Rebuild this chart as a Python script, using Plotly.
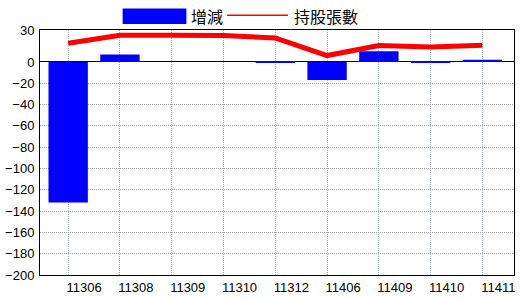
import plotly.graph_objects as go

categories = ["11306", "11308", "11309", "11310", "11312", "11406", "11409", "11410", "11411"]
change_values = [-132, 7, 0, 0, -1, -17, 10, -1, 2]
holding_values = [17.5, 25, 25, 24.8, 22.5, 6, 15.5, 14, 15.8]
y_tick_values = [30, 0, -20, -40, -60, -80, -100, -120, -140, -160, -180, -200]
bar_name = "增減"
line_name = "持股張數"

W, H = 520, 300
ML, MR, MT, MB = 39, 5, 30, 20
PW, PH = W - ML - MR, H - MT - MB

def px(x):
    return (x - ML) / PW

def py(y):
    return (H - MB - y) / PH

tick_font = dict(family="Liberation Sans Narrow, Arial Narrow, Liberation Sans, Arial", size=13, color="black")
cjk_font = dict(family="Noto Sans CJK TC, Noto Sans CJK SC", size=16, color="black")

fig = go.Figure()
fig.add_trace(go.Bar(x=categories, y=change_values, name=bar_name,
                     marker=dict(color="#0000FF", line=dict(width=0)), width=0.76))
fig.add_trace(go.Scatter(x=categories, y=holding_values, name=line_name, mode="lines",
                         line=dict(color="#FF0000", width=5)))

fig.update_layout(
    width=W, height=H,
    margin=dict(l=ML, r=MR, t=MT, b=MB),
    paper_bgcolor="white", plot_bgcolor="white",
    showlegend=False,
    xaxis=dict(type="category", range=[-0.544, 8.61], showgrid=True, gridcolor="#A3B6CA",
               griddash="1px,1px", gridwidth=1, showline=True, mirror=True, linecolor="black",
               linewidth=1, ticks="", tickfont=tick_font, ticklabelshift=16, ticklabelstandoff=0),
    yaxis=dict(range=[-200, 30], tickvals=y_tick_values, showgrid=True, gridcolor="#A0A0A0",
               griddash="1px,1px", gridwidth=1, showline=True, mirror=True, linecolor="black",
               linewidth=1, zeroline=True, zerolinecolor="black", zerolinewidth=1,
               ticks="", tickfont=tick_font, ticklabelstandoff=2),
)

# legend drawn manually
fig.add_shape(type="rect", xref="paper", yref="paper", x0=px(122), x1=px(186), y0=py(24), y1=py(8),
              fillcolor="#0000FF", line=dict(width=0))
fig.add_annotation(xref="paper", yref="paper", x=px(189), y=py(16), text=bar_name, showarrow=False,
                   xanchor="left", yanchor="middle", font=cjk_font)
fig.add_shape(type="line", xref="paper", yref="paper", x0=px(227), x1=px(288), y0=py(15), y1=py(15),
              line=dict(color="#FF0000", width=1.5))
fig.add_annotation(xref="paper", yref="paper", x=px(292), y=py(16), text=line_name, showarrow=False,
                   xanchor="left", yanchor="middle", font=cjk_font)

fig.write_html("out.html")
